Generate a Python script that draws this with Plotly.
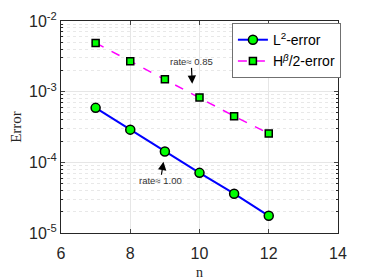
import math
import plotly.graph_objects as go

n = [7, 8, 9, 10, 11, 12]
l2_err = [5.9e-4, 2.9e-4, 1.42e-4, 7.1e-5, 3.6e-5, 1.75e-5]
h_err = [4.9e-3, 2.7e-3, 1.5e-3, 8.3e-4, 4.5e-4, 2.55e-4]

x_ticks = [6, 8, 10, 12, 14]
y_tickvals = [1e-5, 1e-4, 1e-3, 1e-2]
y_ticktext = ["10<sup>-5</sup>", "10<sup>-4</sup>", "10<sup>-3</sup>", "10<sup>-2</sup>"]

rate_labels = ["rate\u2248 0.85", "rate\u2248 1.00"]
rate_x = [9.79, 8.96]
rate_y = [1.29e-3, 1.02e-4]

fig = go.Figure()
fig.add_trace(go.Scatter(
    x=n, y=l2_err, mode="lines+markers", name="L<sup>2</sup>-error",
    line=dict(color="#0000ff", width=2),
    marker=dict(symbol="circle", size=9, color="#00ff00", line=dict(color="black", width=1.5)),
))
fig.add_trace(go.Scatter(
    x=n, y=h_err, mode="lines+markers", name="H<sup><i>β</i></sup>/2-error",
    line=dict(color="#ff00ff", width=1.5, dash="dash"),
    marker=dict(symbol="square", size=7, color="#00ff00", line=dict(color="black", width=1.5)),
))

offsets = [(-1, -22), (-3, 19)]
for lab, xx, yy, (ax, ay) in zip(rate_labels, rate_x, rate_y, offsets):
    fig.add_annotation(
        x=xx, y=math.log10(yy), text=lab, showarrow=True,
        ax=ax, ay=ay, arrowhead=2, arrowsize=1.4, arrowwidth=1.2, arrowcolor="black",
        font=dict(family="Liberation Sans, Arial", size=9.5, color="#333333"),
        borderpad=0,
    )

fig.update_layout(
    width=366, height=272,
    margin=dict(l=53, r=36, t=13, b=47),
    paper_bgcolor="white", plot_bgcolor="white",
    font=dict(family="Liberation Sans, Arial", size=14, color="#262626"),
    showlegend=True,
    legend=dict(
        x=0.617, y=0.99, xanchor="left", yanchor="top",
        bgcolor="white", bordercolor="#707070", borderwidth=1,
        font=dict(size=14, color="#000000"),
        tracegroupgap=0, itemwidth=30,
    ),
    xaxis=dict(
        range=[6, 14], tickvals=x_ticks, ticks="inside", ticklen=4,
        showline=True, linecolor="#262626", linewidth=1, mirror="ticks",
        showgrid=True, gridcolor="#e6e6e6", gridwidth=1, zeroline=False,
        title=dict(text="n", font=dict(family="Liberation Serif, Times New Roman", size=14), standoff=9),
        tickfont=dict(size=16), ticklabelstandoff=6, automargin=False,
    ),
    yaxis=dict(
        type="log", range=[-5, -2], tickvals=y_tickvals, ticktext=y_ticktext,
        ticks="inside", ticklen=4,
        showline=True, linecolor="#262626", linewidth=1, mirror="ticks",
        showgrid=True, gridcolor="#e6e6e6", gridwidth=1, zeroline=False,
        minor=dict(ticks="inside", ticklen=2, showgrid=True, gridcolor="#e8e8e8",
                   griddash="dot", dtick="D1", tickcolor="#262626"),
        title=dict(text="Error", font=dict(family="Liberation Serif, Times New Roman", size=15), standoff=6),
        tickfont=dict(size=16), automargin=False,
    ),
)

fig.write_html("out.html")
